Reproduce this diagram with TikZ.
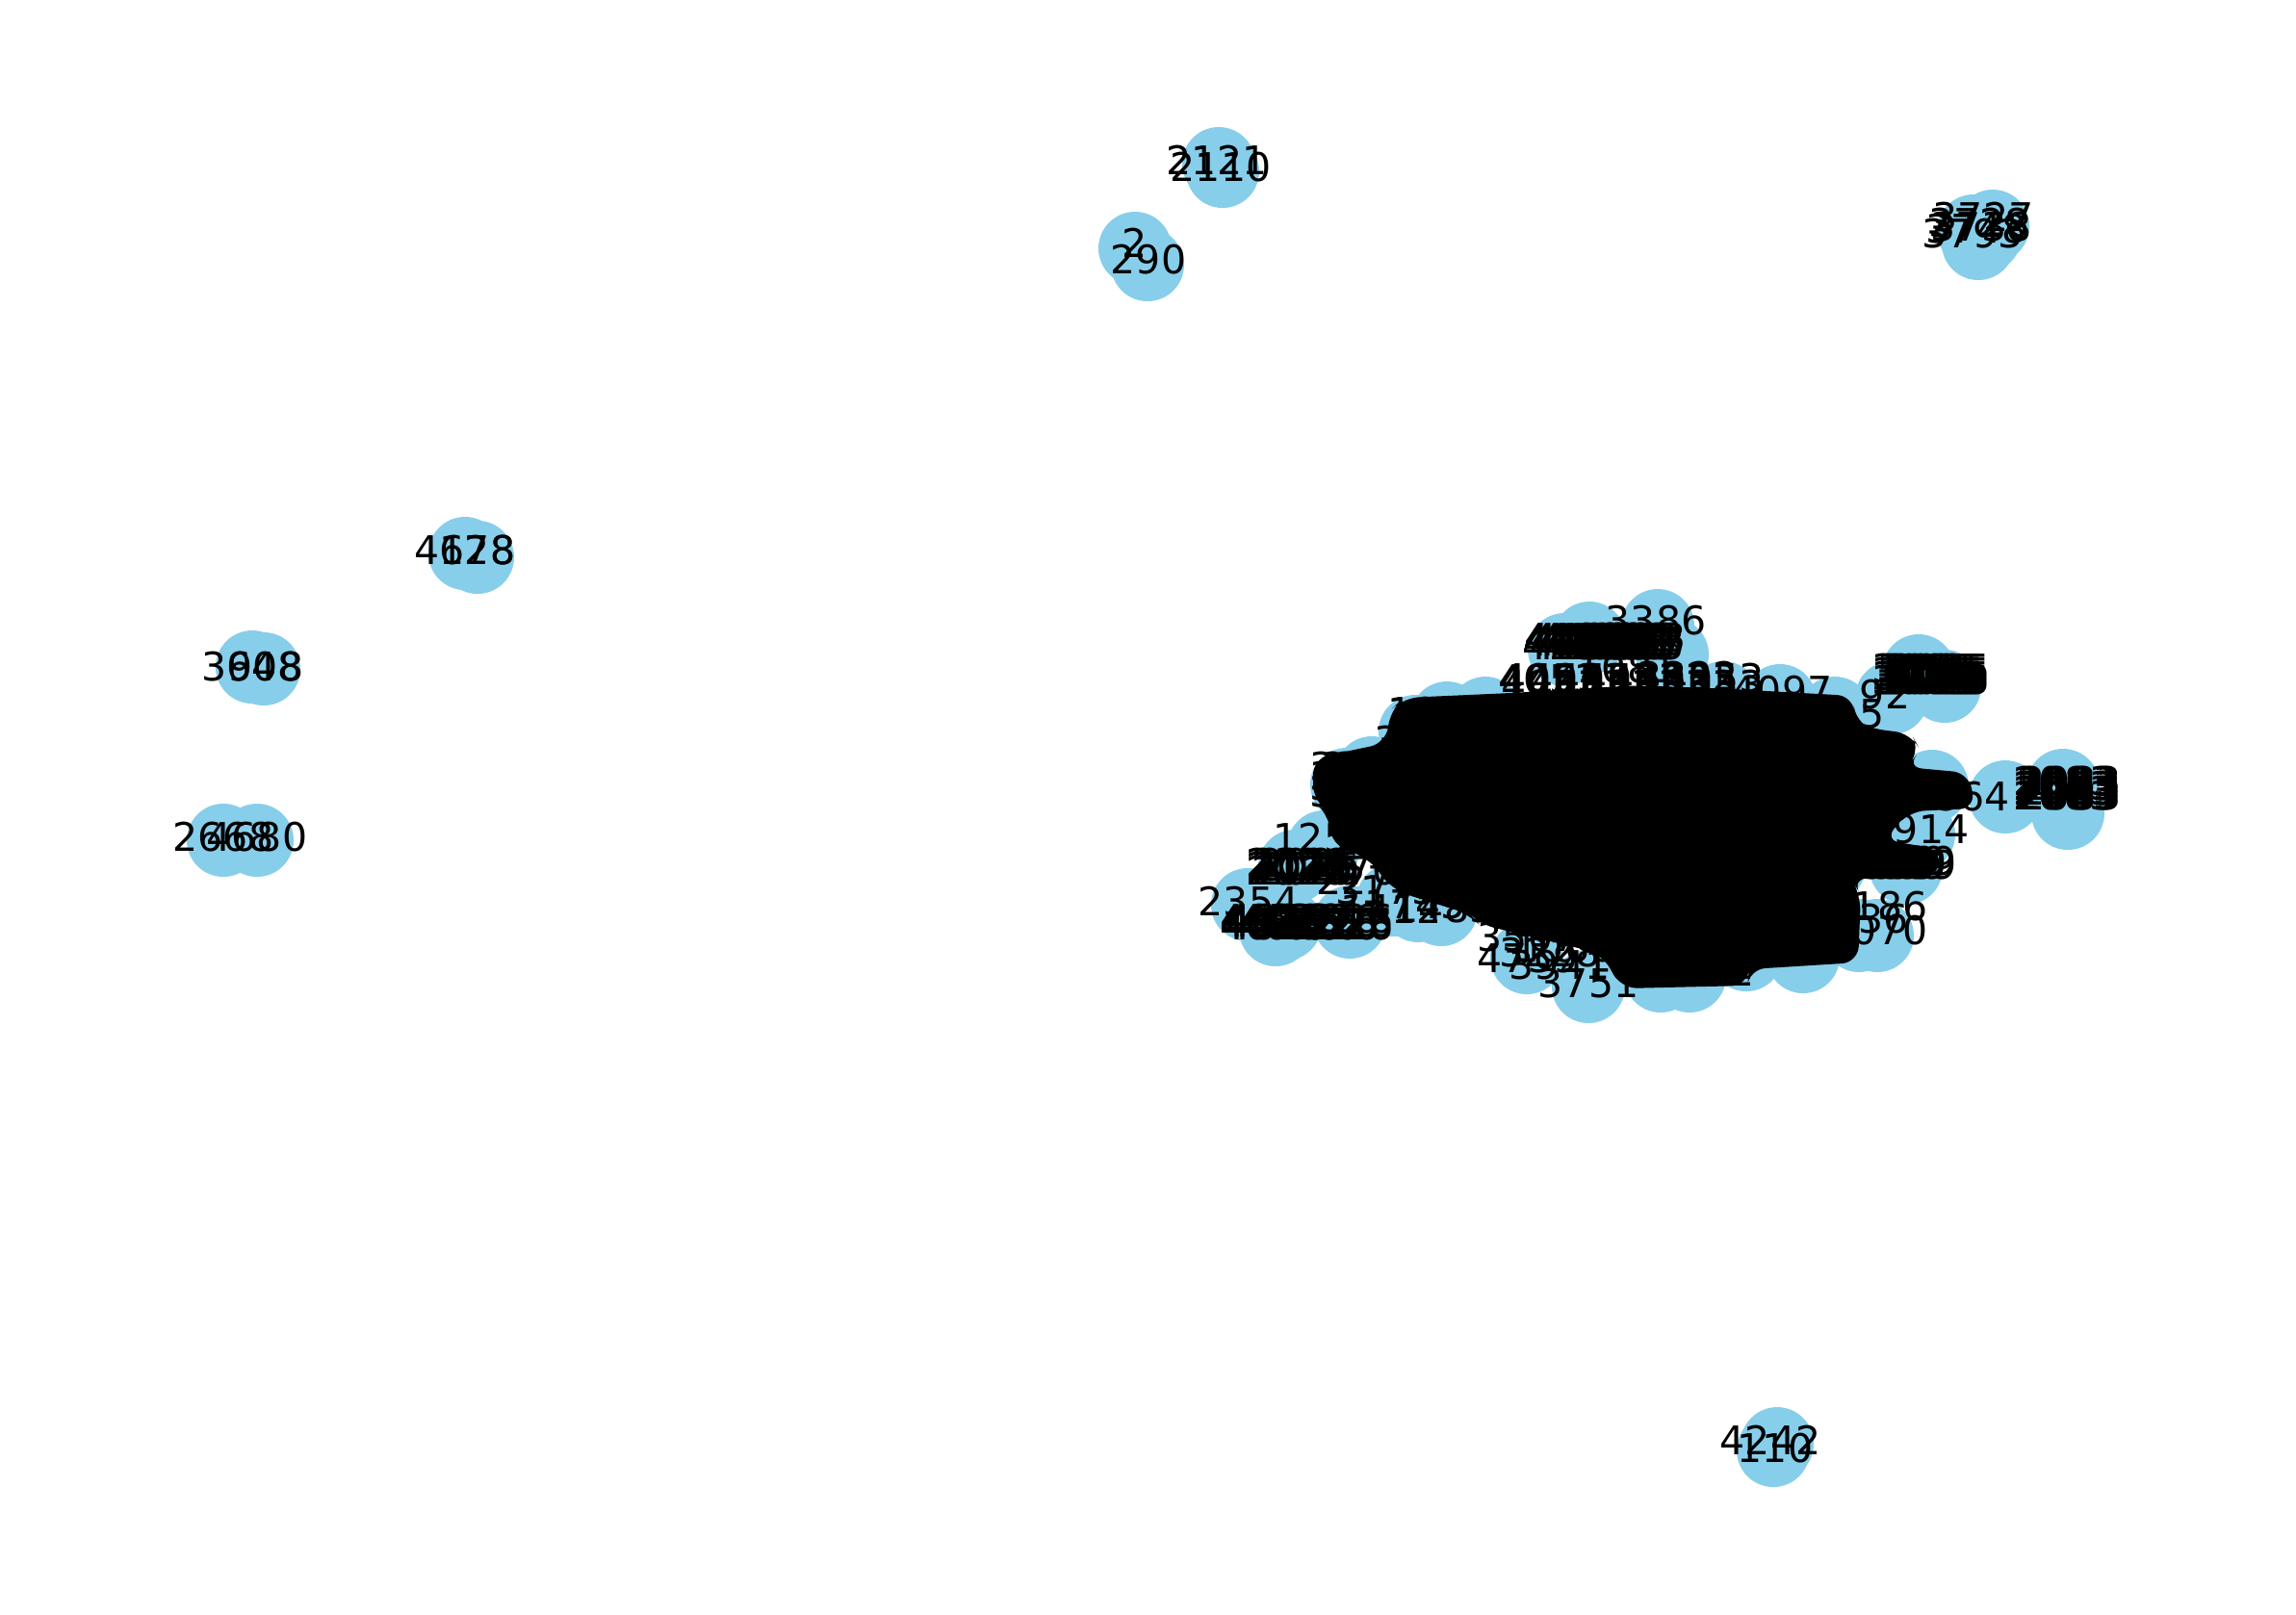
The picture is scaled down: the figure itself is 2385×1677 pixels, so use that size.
\documentclass[tikz,border=0pt]{standalone}
\usepackage{fontspec}
\setmainfont{DejaVu Sans}
\definecolor{nodeblue}{HTML}{87CEEB}
\tikzset{
  x=0.3pt,y=-0.3pt,
  bub/.style={circle,fill=nodeblue,draw=none,minimum size=22.8pt,inner sep=0pt,outer sep=0pt},
  lab/.style={inner sep=0pt,outer sep=0pt,text=black,font=\fontsize{12.3pt}{12.3pt}\selectfont,text height=8.97pt,text depth=0pt}
}
\begin{document}
\begin{tikzpicture}
\useasboundingbox (0,0) rectangle (2385,1677);
% outer components and main cluster: node discs
\foreach \x/\y [count=\i] in {1266/170,1270/178,1179/258,1192/275,
 2070/235,2055/253,2050/240,2062/245,
 483/575,496/579,262/693,274/695,232/873,267/873,1842/1507,1846/1500,
 1722/650,1651/663,1625/675,1737/680,1790/725,1849/728,1906/741,
 1993/697,2020/713,1965/725,2007/817,2083/828,2143/816,2148/845,1993/867,
 1980/902,1950/972,1931/972,1873/994,1814/992,1755/1014,1725/1014,1650/1025,1586/995,
 1296/940,1325/966,1335/960,1402/958,1497/945,1473/941,1447/935,
 1375/880,1345/900,1425/803,1399/815,1410/850,1503/746,1543/741,1470/760,1700/800,1600/800,1800/800,1900/820,1700/900,1500/870,1600/950,1800/950,1900/900}
 {\node[bub] (c\i) at (\x,\y) {};}
% fused text of the central cluster
\fill[black,rounded corners=5] (1536,960)--(1527,950)--(1447,925)--(1420,890)--(1385,880)--(1378,842)--(1364,832)--(1364,788)--(1440,772)--(1444,738)--(1458,725)--(1570,720)--(1700,712)--(1800,716)--(1925,723)--(1927,750)--(1943,757)--(1985,762)--(1995,780)--(1980,797)--(2045,803)--(2052,840)--(1983,843)--(1957,873)--(2015,882)--(2015,910)--(1923,913)--(1933,930)--(1930,1000)--(1817,1007)--(1815,1024)--(1684,1027)--(1664,991)--cycle;
% dense overlapping labels at the rim
\foreach \x in {1634,1642,...,1703} \foreach \y in {663,667,671}
 {\node[lab] (a\x\y) at (\x-0.25*\y+167,\y) {4183};}
\foreach \x in {1997,2003,...,2016} \foreach \y in {695,699,...,707}
 {\node[lab] (b\x\y) at (\x,\y) {3085};}
\foreach \x in {2144,2148,2151} \foreach \y in {812,817,...,830}
 {\node[lab] (e\x\y) at (\x,\y) {2083};}
\foreach \x in {1347,1353,1360} \foreach \y in {897,901,905}
 {\node[lab] (d\x\y) at (\x,\y) {2026};}
\foreach \x in {1320,1326,1340,1360,1380,1395} \foreach \y in {955,959,962}
 {\node[lab] (f\x\y) at (\x,\y) {4626};}
\foreach \x in {1413,1425,1438} \foreach \y in {797,807,817,824}
 {\node[lab] (g\x\y) at (\x,\y) {3108};}
\foreach \x in {1740,1755,1770} \foreach \y in {1003,1010}
 {\node[lab] (h\x\y) at (\x,\y) {1572};}
% right shelf and the top rim
\foreach \x in {1960,1970,1980} \foreach \y in {895,899}
 {\node[lab] (k\x\y) at (\x,\y) {1539};}
\foreach \x in {1612,1640,...,1780} \foreach \y in {705,712}
 {\node[lab] (r\x\y) at (\x,\y) {4053};}
\foreach \x/\y/\t [count=\i] in {
 1720/645/3386,
 1609/706/4053, 1753/703/3322, 1851/718/4097,
 1494/740/1038, 1500/750/1962, 1690/695/1081,
 1958/722/92, 1945/742/5, 1993/862/2914, 1950/967/3070, 1930/955/3736, 2035/828/1864,
 1950/942/1186, 1375/871/1250, 1297/937/2354, 1445/945/1412,1500/944/1483,1470/940/1745,
 1420/915/2276, 1425/905/2705, 1440/925/3175,
 1587/974/3507, 1587/996/4759, 1620/1003/3941, 1650/1022/3751, 1610/990/3228, 1625/985/1066,
 1480/770/3172,1490/780/2533}
 {\node[lab] (m\i) at (\x,\y) {\t};}
% outer component labels
\node[lab] (t1) at (1264,167) {2121};
\node[lab] (t2) at (1268,174) {2110};
\node[lab] (t3) at (1179,253) {2};
\node[lab] (t4) at (1193,270) {290};
\node[lab] (t5) at (2060,226) {3727};
\node[lab] (t6) at (2056,232) {3728};
\node[lab] (t7) at (2053,238) {3748};
\node[lab] (t8) at (2049,243) {3793};
\node[lab] (t9) at (2058,236) {3738};
\node[lab] (t10) at (483,572) {4678};
\node[lab] (t11) at (496,572) {128};
\node[lab] (t12) at (262,693) {3648};
\node[lab] (t13) at (276,693) {908};
\node[lab] (t14) at (232,870) {2668};
\node[lab] (t15) at (267,870) {4680};
\node[lab] (t16) at (1839,1497) {4242};
\node[lab] (t17) at (1844,1505) {110};
\end{tikzpicture}
\end{document}
